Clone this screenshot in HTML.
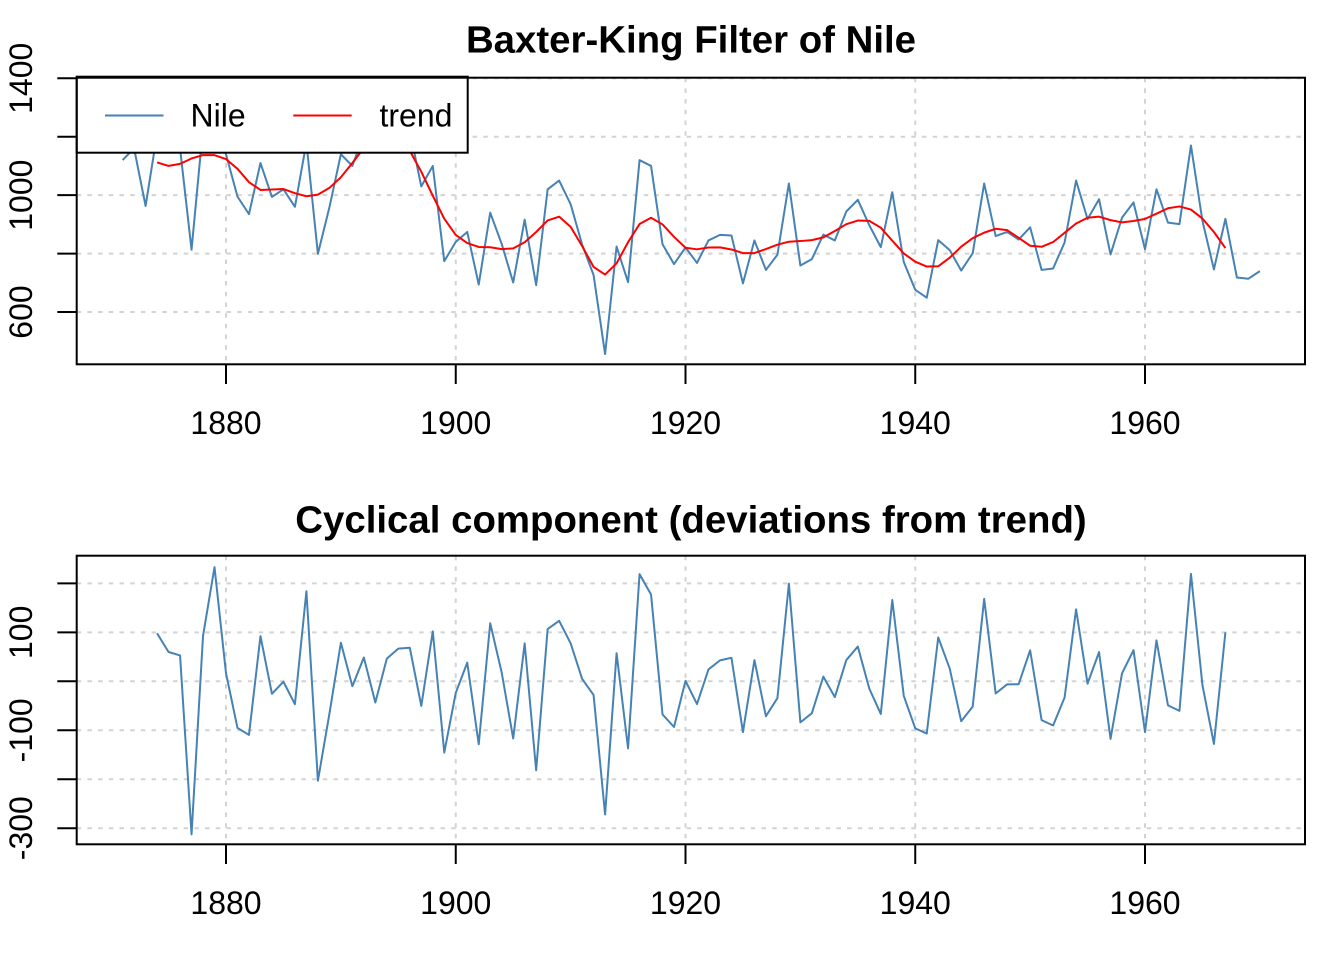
<!DOCTYPE html>
<html>
<head>
<meta charset="utf-8">
<style>
html,body{margin:0;padding:0;background:#fff;}
svg{display:block;}
text{font-family:"Liberation Sans",Arial,sans-serif;fill:#000;}
</style>
</head>
<body>
<svg id="s" width="1344" height="960" viewBox="0 0 1344 960" xmlns="http://www.w3.org/2000/svg">
<rect x="0" y="0" width="1344" height="960" fill="#fff"/>

<!-- ===== TOP PANEL ===== -->
<g id="gridTop" stroke="#d3d3d3" stroke-width="2" stroke-dasharray="4.5,6.2" fill="none"></g>
<polyline id="nileLine" fill="none" stroke="#4682B4" stroke-width="2" stroke-linejoin="round" vector-effect="non-scaling-stroke"
 transform="translate(226,195.15) scale(11.4875,-0.29213) translate(-1880,-1000)"
 points="1871,1120 1872,1160 1873,963 1874,1210 1875,1160 1876,1160 1877,813 1878,1230 1879,1370 1880,1140 1881,995 1882,935 1883,1110 1884,994 1885,1020 1886,960 1887,1180 1888,799 1889,958 1890,1140 1891,1100 1892,1210 1893,1150 1894,1250 1895,1260 1896,1220 1897,1030 1898,1100 1899,774 1900,840 1901,874 1902,694 1903,940 1904,833 1905,701 1906,916 1907,692 1908,1020 1909,1050 1910,969 1911,831 1912,726 1913,456 1914,824 1915,702 1916,1120 1917,1100 1918,832 1919,764 1920,821 1921,768 1922,845 1923,864 1924,862 1925,698 1926,845 1927,744 1928,796 1929,1040 1930,759 1931,781 1932,865 1933,845 1934,944 1935,984 1936,897 1937,822 1938,1010 1939,771 1940,676 1941,649 1942,846 1943,812 1944,742 1945,801 1946,1040 1947,860 1948,874 1949,848 1950,890 1951,744 1952,749 1953,838 1954,1050 1955,918 1956,986 1957,797 1958,923 1959,975 1960,815 1961,1020 1962,906 1963,901 1964,1170 1965,912 1966,746 1967,919 1968,718 1969,714 1970,740"/>
<polyline id="trendLine" fill="none" stroke="#ff0000" stroke-width="2" stroke-linejoin="round" points=""/>

<!-- legend -->
<rect x="76.7" y="76.7" width="391" height="76" fill="#fff" stroke="#000" stroke-width="2"/>
<line x1="105" y1="115.5" x2="163.5" y2="115.5" stroke="#4682B4" stroke-width="2"/>
<text x="190.5" y="126.7" font-size="32">Nile</text>
<line x1="293.3" y1="115.5" x2="351.7" y2="115.5" stroke="#ff0000" stroke-width="2"/>
<text x="379.5" y="126.7" font-size="32">trend</text>

<!-- box -->
<rect x="76.7" y="77.7" width="1228.3" height="286.6" fill="none" stroke="#000" stroke-width="2"/>
<g id="ticksTop" stroke="#000" stroke-width="2"></g>
<text x="691" y="52.7" font-size="38.4" font-weight="bold" text-anchor="middle">Baxter-King Filter of Nile</text>
<g font-size="32" text-anchor="middle">
<text x="226" y="434">1880</text>
<text x="455.75" y="434">1900</text>
<text x="685.5" y="434">1920</text>
<text x="915.25" y="434">1940</text>
<text x="1145" y="434">1960</text>
<text transform="translate(32,312) rotate(-90)">600</text>
<text transform="translate(32,195.15) rotate(-90)">1000</text>
<text transform="translate(32,78.3) rotate(-90)">1400</text>
</g>

<!-- ===== BOTTOM PANEL ===== -->
<g id="gridBot" stroke="#d3d3d3" stroke-width="2" stroke-dasharray="4.5,6.2" fill="none"></g>
<polyline id="cycleLine" fill="none" stroke="#4682B4" stroke-width="2" stroke-linejoin="round" points=""/>
<rect x="76.7" y="555.7" width="1228.3" height="288.6" fill="none" stroke="#000" stroke-width="2"/>
<g id="ticksBot" stroke="#000" stroke-width="2"></g>
<text x="691" y="532.7" font-size="38.4" font-weight="bold" text-anchor="middle">Cyclical component (deviations from trend)</text>
<g font-size="32" text-anchor="middle">
<text x="226" y="914">1880</text>
<text x="455.75" y="914">1900</text>
<text x="685.5" y="914">1920</text>
<text x="915.25" y="914">1940</text>
<text x="1145" y="914">1960</text>
<text transform="translate(32,632.3) rotate(-90)">100</text>
<text transform="translate(32,730.3) rotate(-90)">-100</text>
<text transform="translate(32,828.2) rotate(-90)">-300</text>
</g>
</svg>

<script>
(function(){
var nile=[1120,1160,963,1210,1160,1160,813,1230,1370,1140,995,935,1110,994,1020,960,1180,799,958,1140,1100,1210,1150,1250,1260,1220,1030,1100,774,840,874,694,940,833,701,916,692,1020,1050,969,831,726,456,824,702,1120,1100,832,764,821,768,845,864,862,698,845,744,796,1040,759,781,865,845,944,984,897,822,1010,771,676,649,846,812,742,801,1040,860,874,848,890,744,749,838,1050,918,986,797,923,975,815,1020,906,901,1170,912,746,919,718,714,740];
function xp(yr){return 226+(yr-1880)*11.4875;}
function yT(v){return 195.15-(v-1000)*0.29213;}
function yB(v){return 681.3-v*0.4897;}
var NS="http://www.w3.org/2000/svg";
function line(g,x1,y1,x2,y2){var l=document.createElementNS(NS,"line");l.setAttribute("x1",x1);l.setAttribute("y1",y1);l.setAttribute("x2",x2);l.setAttribute("y2",y2);g.appendChild(l);}
var years=[1880,1900,1920,1940,1960];
var gT=document.getElementById("gridTop"), tT=document.getElementById("ticksTop");
years.forEach(function(y){line(gT,xp(y),77.7,xp(y),364.3);line(tT,xp(y),364.3,xp(y),384);});
[600,800,1000,1200,1400].forEach(function(v){line(gT,76.7,yT(v),1305,yT(v));line(tT,57.3,yT(v),76.7,yT(v));});
var gB=document.getElementById("gridBot"), tB=document.getElementById("ticksBot");
years.forEach(function(y){line(gB,xp(y),555.7,xp(y),844.3);line(tB,xp(y),844.3,xp(y),864);});
[-300,-200,-100,0,100,200].forEach(function(v){line(gB,76.7,yB(v),1305,yB(v));line(tB,57.3,yB(v),76.7,yB(v));});
var K=3,a=2*Math.PI/8,b=2*Math.PI/2;
var B=[(b-a)/Math.PI];
for(var j=1;j<=K;j++){B.push((Math.sin(j*b)-Math.sin(j*a))/(Math.PI*j));}
var s=B[0];for(j=1;j<=K;j++)s+=2*B[j];
var th=-s/(2*K+1);
var w=B.map(function(x){return x+th;});
var tp=[],cp=[];
for(var t=K;t<nile.length-K;t++){
  var c=w[0]*nile[t];
  for(j=1;j<=K;j++)c+=w[j]*(nile[t-j]+nile[t+j]);
  var tr=nile[t]-c, yr=1871+t;
  tp.push(xp(yr).toFixed(2)+","+yT(tr).toFixed(2));
  cp.push(xp(yr).toFixed(2)+","+yB(c).toFixed(2));
}
document.getElementById("trendLine").setAttribute("points",tp.join(" "));
document.getElementById("cycleLine").setAttribute("points",cp.join(" "));
var trend=document.getElementById("trendLine");
var nl=document.getElementById("nileLine");
nl.parentNode.insertBefore(trend,nl.nextSibling);
})();
</script>
</body>
</html>
